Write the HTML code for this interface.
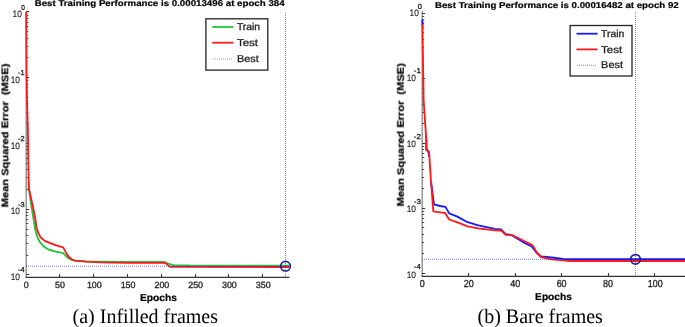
<!DOCTYPE html>
<html><head><meta charset="utf-8"><style>
html,body{margin:0;padding:0;background:#fff;width:685px;height:327px;overflow:hidden}
svg{display:block}
text{will-change:transform;text-rendering:geometricPrecision}
.r{stroke:#222;stroke-width:0.3px}
.r2{stroke:#222;stroke-width:0.12px}
.b{stroke:#000;stroke-width:0.2px}
</style></head><body>
<svg width="685" height="327" viewBox="0 0 685 327" font-family="Liberation Sans, sans-serif">
<rect width="685" height="327" fill="#fff"/>
<text x="34.7" y="6.4" font-size="8.5" font-weight="bold" class="b" textLength="249.9" lengthAdjust="spacingAndGlyphs">Best Training Performance is 0.00013496 at epoch 384</text>
<line x1="26.2" y1="12" x2="26.2" y2="277.3" stroke="#888" stroke-width="1.3"/>
<line x1="25.599999999999998" y1="277.3" x2="289.4" y2="277.3" stroke="#333" stroke-width="1.3"/>
<line x1="26.2" y1="11.5" x2="29.2" y2="11.5" stroke="#333" stroke-width="1"/>
<line x1="26.2" y1="57.5" x2="28.2" y2="57.5" stroke="#333" stroke-width="0.9"/>
<line x1="26.2" y1="46.5" x2="28.2" y2="46.5" stroke="#333" stroke-width="0.9"/>
<line x1="26.2" y1="38.5" x2="28.2" y2="38.5" stroke="#333" stroke-width="0.9"/>
<line x1="26.2" y1="31.5" x2="28.2" y2="31.5" stroke="#333" stroke-width="0.9"/>
<line x1="26.2" y1="26.5" x2="28.2" y2="26.5" stroke="#333" stroke-width="0.9"/>
<line x1="26.2" y1="22.5" x2="28.2" y2="22.5" stroke="#333" stroke-width="0.9"/>
<line x1="26.2" y1="18.5" x2="28.2" y2="18.5" stroke="#333" stroke-width="0.9"/>
<line x1="26.2" y1="15.5" x2="28.2" y2="15.5" stroke="#333" stroke-width="0.9"/>
<text x="12.6" y="17.3" font-size="9.3" class="r2" fill="#222" textLength="9.3" lengthAdjust="spacingAndGlyphs">10</text>
<text x="21.2" y="10.4" font-size="7.2" class="r" fill="#222" textLength="3.6" lengthAdjust="spacingAndGlyphs">0</text>
<line x1="26.2" y1="77.5" x2="29.2" y2="77.5" stroke="#333" stroke-width="1"/>
<line x1="26.2" y1="123.5" x2="28.2" y2="123.5" stroke="#333" stroke-width="0.9"/>
<line x1="26.2" y1="112.5" x2="28.2" y2="112.5" stroke="#333" stroke-width="0.9"/>
<line x1="26.2" y1="103.5" x2="28.2" y2="103.5" stroke="#333" stroke-width="0.9"/>
<line x1="26.2" y1="97.5" x2="28.2" y2="97.5" stroke="#333" stroke-width="0.9"/>
<line x1="26.2" y1="92.5" x2="28.2" y2="92.5" stroke="#333" stroke-width="0.9"/>
<line x1="26.2" y1="87.5" x2="28.2" y2="87.5" stroke="#333" stroke-width="0.9"/>
<line x1="26.2" y1="84.5" x2="28.2" y2="84.5" stroke="#333" stroke-width="0.9"/>
<line x1="26.2" y1="80.5" x2="28.2" y2="80.5" stroke="#333" stroke-width="0.9"/>
<text x="10.7" y="83" font-size="9.3" class="r2" fill="#222" textLength="9.3" lengthAdjust="spacingAndGlyphs">10</text>
<text x="18.1" y="75.2" font-size="7.2" class="r" fill="#222" textLength="6.6" lengthAdjust="spacingAndGlyphs">-1</text>
<line x1="26.2" y1="143.5" x2="29.2" y2="143.5" stroke="#333" stroke-width="1"/>
<line x1="26.2" y1="189.5" x2="28.2" y2="189.5" stroke="#333" stroke-width="0.9"/>
<line x1="26.2" y1="177.5" x2="28.2" y2="177.5" stroke="#333" stroke-width="0.9"/>
<line x1="26.2" y1="169.5" x2="28.2" y2="169.5" stroke="#333" stroke-width="0.9"/>
<line x1="26.2" y1="163.5" x2="28.2" y2="163.5" stroke="#333" stroke-width="0.9"/>
<line x1="26.2" y1="158.5" x2="28.2" y2="158.5" stroke="#333" stroke-width="0.9"/>
<line x1="26.2" y1="153.5" x2="28.2" y2="153.5" stroke="#333" stroke-width="0.9"/>
<line x1="26.2" y1="149.5" x2="28.2" y2="149.5" stroke="#333" stroke-width="0.9"/>
<line x1="26.2" y1="146.5" x2="28.2" y2="146.5" stroke="#333" stroke-width="0.9"/>
<text x="10.7" y="148.7" font-size="9.3" class="r2" fill="#222" textLength="9.3" lengthAdjust="spacingAndGlyphs">10</text>
<text x="18.1" y="140.9" font-size="7.2" class="r" fill="#222" textLength="6.6" lengthAdjust="spacingAndGlyphs">-2</text>
<line x1="26.2" y1="209.5" x2="29.2" y2="209.5" stroke="#333" stroke-width="1"/>
<line x1="26.2" y1="255.5" x2="28.2" y2="255.5" stroke="#333" stroke-width="0.9"/>
<line x1="26.2" y1="243.5" x2="28.2" y2="243.5" stroke="#333" stroke-width="0.9"/>
<line x1="26.2" y1="235.5" x2="28.2" y2="235.5" stroke="#333" stroke-width="0.9"/>
<line x1="26.2" y1="229.5" x2="28.2" y2="229.5" stroke="#333" stroke-width="0.9"/>
<line x1="26.2" y1="223.5" x2="28.2" y2="223.5" stroke="#333" stroke-width="0.9"/>
<line x1="26.2" y1="219.5" x2="28.2" y2="219.5" stroke="#333" stroke-width="0.9"/>
<line x1="26.2" y1="215.5" x2="28.2" y2="215.5" stroke="#333" stroke-width="0.9"/>
<line x1="26.2" y1="212.5" x2="28.2" y2="212.5" stroke="#333" stroke-width="0.9"/>
<text x="10.7" y="214.4" font-size="9.3" class="r2" fill="#222" textLength="9.3" lengthAdjust="spacingAndGlyphs">10</text>
<text x="18.1" y="206.6" font-size="7.2" class="r" fill="#222" textLength="6.6" lengthAdjust="spacingAndGlyphs">-3</text>
<line x1="26.2" y1="274.5" x2="29.2" y2="274.5" stroke="#333" stroke-width="1"/>
<text x="10.7" y="280.1" font-size="9.3" class="r2" fill="#222" textLength="9.3" lengthAdjust="spacingAndGlyphs">10</text>
<text x="18.1" y="272.3" font-size="7.2" class="r" fill="#222" textLength="6.6" lengthAdjust="spacingAndGlyphs">-4</text>
<text x="26.2" y="288" font-size="9.0" class="r" fill="#222" text-anchor="middle" textLength="4.95" lengthAdjust="spacingAndGlyphs">0</text>
<line x1="59.5" y1="277.3" x2="59.5" y2="274.1" stroke="#333" stroke-width="1.1"/>
<text x="59.97" y="288" font-size="9.0" class="r" fill="#222" text-anchor="middle" textLength="9.9" lengthAdjust="spacingAndGlyphs">50</text>
<line x1="93.5" y1="277.3" x2="93.5" y2="274.1" stroke="#333" stroke-width="1.1"/>
<text x="94.34" y="288" font-size="9.0" class="r" fill="#222" text-anchor="middle" textLength="14.850000000000001" lengthAdjust="spacingAndGlyphs">100</text>
<line x1="127.5" y1="277.3" x2="127.5" y2="274.1" stroke="#333" stroke-width="1.1"/>
<text x="128.11" y="288" font-size="9.0" class="r" fill="#222" text-anchor="middle" textLength="14.850000000000001" lengthAdjust="spacingAndGlyphs">150</text>
<line x1="161.5" y1="277.3" x2="161.5" y2="274.1" stroke="#333" stroke-width="1.1"/>
<text x="161.88" y="288" font-size="9.0" class="r" fill="#222" text-anchor="middle" textLength="14.850000000000001" lengthAdjust="spacingAndGlyphs">200</text>
<line x1="195.5" y1="277.3" x2="195.5" y2="274.1" stroke="#333" stroke-width="1.1"/>
<text x="195.65" y="288" font-size="9.0" class="r" fill="#222" text-anchor="middle" textLength="14.850000000000001" lengthAdjust="spacingAndGlyphs">250</text>
<line x1="228.5" y1="277.3" x2="228.5" y2="274.1" stroke="#333" stroke-width="1.1"/>
<text x="229.42" y="288" font-size="9.0" class="r" fill="#222" text-anchor="middle" textLength="14.850000000000001" lengthAdjust="spacingAndGlyphs">300</text>
<line x1="262.5" y1="277.3" x2="262.5" y2="274.1" stroke="#333" stroke-width="1.1"/>
<text x="263.19" y="288" font-size="9.0" class="r" fill="#222" text-anchor="middle" textLength="14.850000000000001" lengthAdjust="spacingAndGlyphs">350</text>
<polyline points="28.65,182 28.8,186 29.8,195 31.1,204.2 33.7,220 35.4,230 37.3,237 39.9,242.1 43.6,246.4 48.5,249.5 54.6,251.3 63.1,253.1 65.6,255.6 68,258 71.7,259.9 75,260.7 85.9,261.3 100,261.6 130,261.8 164,261.9 166,262.6 169,263.8 173.5,265.1 190,265.5 289,265.6" fill="none" stroke="#22c43c" stroke-width="1.85" stroke-linejoin="round"/>
<polyline points="26.2,12 26.5,70 27,100 27.9,130 28.3,160 28.8,188.4 30.3,195 33,207 35.5,220 36.5,228 38.1,232.3 40.5,237.2 44.8,240.9 50.9,243.3 57,245.6 63.1,247.4 65.6,251.9 68.6,256.8 72,259.5 75,260.6 85.9,261.6 100,262.3 130,262.8 165,262.9 166.5,263.8 169.5,266.7 172,266.9 289,267" fill="none" stroke="#ff1a1a" stroke-width="1.85" stroke-linejoin="round"/>
<line x1="26" y1="266.2" x2="289.4" y2="266.2" stroke="#1e1eaa" stroke-opacity="0.56" stroke-width="1" stroke-dasharray="1 1"/>
<line x1="285.5" y1="13" x2="285.5" y2="277.3" stroke="#1e1eaa" stroke-opacity="0.56" stroke-width="1" stroke-dasharray="1 1"/>
<circle cx="285.5" cy="266.2" r="4.8" fill="none" stroke="#1c1ca0" stroke-width="1.7"/>
<text x="139.9" y="300.7" font-size="10" font-weight="bold" class="b" textLength="37.0" lengthAdjust="spacingAndGlyphs">Epochs</text>
<text transform="translate(8.3,207.3) rotate(-90)" font-size="9.7" font-weight="bold" class="b" textLength="143.6" lengthAdjust="spacingAndGlyphs" xml:space="preserve">Mean Squared Error  (MSE)</text>
<rect x="205.9" y="18.8" width="61.9" height="51.3" fill="#fff" stroke="#222" stroke-width="1.3"/>
<line x1="212.3" y1="27" x2="233.4" y2="27" stroke="#22c43c" stroke-width="1.8"/>
<text x="236.9" y="30.3" font-size="10" class="r" fill="#222" textLength="23.2" lengthAdjust="spacingAndGlyphs">Train</text>
<line x1="212.3" y1="42.7" x2="233.4" y2="42.7" stroke="#ff1a1a" stroke-width="1.8"/>
<text x="236.9" y="46" font-size="10" class="r" fill="#222" textLength="21.2" lengthAdjust="spacingAndGlyphs">Test</text>
<line x1="213" y1="58.9" x2="232" y2="58.9" stroke="#1e1eaa" stroke-opacity="0.42" stroke-width="1" stroke-dasharray="1 1"/>
<text x="236.9" y="61.7" font-size="10" class="r" fill="#222" textLength="21.9" lengthAdjust="spacingAndGlyphs">Best</text>
<text x="435.0" y="7.9" font-size="8.5" font-weight="bold" class="b" textLength="243.7" lengthAdjust="spacingAndGlyphs">Best Training Performance is 0.00016482 at epoch 92</text>
<line x1="422.2" y1="11" x2="422.2" y2="276.3" stroke="#888" stroke-width="1.3"/>
<line x1="421.59999999999997" y1="276.3" x2="686" y2="276.3" stroke="#333" stroke-width="1.3"/>
<line x1="422.2" y1="13.5" x2="425.2" y2="13.5" stroke="#333" stroke-width="1"/>
<line x1="422.2" y1="58.5" x2="424.2" y2="58.5" stroke="#333" stroke-width="0.9"/>
<line x1="422.2" y1="47.5" x2="424.2" y2="47.5" stroke="#333" stroke-width="0.9"/>
<line x1="422.2" y1="39.5" x2="424.2" y2="39.5" stroke="#333" stroke-width="0.9"/>
<line x1="422.2" y1="32.5" x2="424.2" y2="32.5" stroke="#333" stroke-width="0.9"/>
<line x1="422.2" y1="27.5" x2="424.2" y2="27.5" stroke="#333" stroke-width="0.9"/>
<line x1="422.2" y1="23.5" x2="424.2" y2="23.5" stroke="#333" stroke-width="0.9"/>
<line x1="422.2" y1="19.5" x2="424.2" y2="19.5" stroke="#333" stroke-width="0.9"/>
<line x1="422.2" y1="16.5" x2="424.2" y2="16.5" stroke="#333" stroke-width="0.9"/>
<text x="409.6" y="15.9" font-size="9.3" class="r2" fill="#222" textLength="9.3" lengthAdjust="spacingAndGlyphs">10</text>
<text x="417.8" y="8.7" font-size="7.2" class="r" fill="#222" textLength="4.2" lengthAdjust="spacingAndGlyphs">0</text>
<line x1="422.2" y1="78.5" x2="425.2" y2="78.5" stroke="#333" stroke-width="1"/>
<line x1="422.2" y1="123.5" x2="424.2" y2="123.5" stroke="#333" stroke-width="0.9"/>
<line x1="422.2" y1="112.5" x2="424.2" y2="112.5" stroke="#333" stroke-width="0.9"/>
<line x1="422.2" y1="104.5" x2="424.2" y2="104.5" stroke="#333" stroke-width="0.9"/>
<line x1="422.2" y1="97.5" x2="424.2" y2="97.5" stroke="#333" stroke-width="0.9"/>
<line x1="422.2" y1="92.5" x2="424.2" y2="92.5" stroke="#333" stroke-width="0.9"/>
<line x1="422.2" y1="88.5" x2="424.2" y2="88.5" stroke="#333" stroke-width="0.9"/>
<line x1="422.2" y1="84.5" x2="424.2" y2="84.5" stroke="#333" stroke-width="0.9"/>
<line x1="422.2" y1="81.5" x2="424.2" y2="81.5" stroke="#333" stroke-width="0.9"/>
<text x="406.7" y="81.3" font-size="9.3" class="r2" fill="#222" textLength="9.3" lengthAdjust="spacingAndGlyphs">10</text>
<text x="413.8" y="73.2" font-size="7.2" class="r" fill="#222" textLength="7.0" lengthAdjust="spacingAndGlyphs">-1</text>
<line x1="422.2" y1="143.5" x2="425.2" y2="143.5" stroke="#333" stroke-width="1"/>
<line x1="422.2" y1="188.5" x2="424.2" y2="188.5" stroke="#333" stroke-width="0.9"/>
<line x1="422.2" y1="177.5" x2="424.2" y2="177.5" stroke="#333" stroke-width="0.9"/>
<line x1="422.2" y1="169.5" x2="424.2" y2="169.5" stroke="#333" stroke-width="0.9"/>
<line x1="422.2" y1="162.5" x2="424.2" y2="162.5" stroke="#333" stroke-width="0.9"/>
<line x1="422.2" y1="157.5" x2="424.2" y2="157.5" stroke="#333" stroke-width="0.9"/>
<line x1="422.2" y1="153.5" x2="424.2" y2="153.5" stroke="#333" stroke-width="0.9"/>
<line x1="422.2" y1="149.5" x2="424.2" y2="149.5" stroke="#333" stroke-width="0.9"/>
<line x1="422.2" y1="146.5" x2="424.2" y2="146.5" stroke="#333" stroke-width="0.9"/>
<text x="406.7" y="146.7" font-size="9.3" class="r2" fill="#222" textLength="9.3" lengthAdjust="spacingAndGlyphs">10</text>
<text x="413.8" y="138.6" font-size="7.2" class="r" fill="#222" textLength="7.0" lengthAdjust="spacingAndGlyphs">-2</text>
<line x1="422.2" y1="208.5" x2="425.2" y2="208.5" stroke="#333" stroke-width="1"/>
<line x1="422.2" y1="253.5" x2="424.2" y2="253.5" stroke="#333" stroke-width="0.9"/>
<line x1="422.2" y1="242.5" x2="424.2" y2="242.5" stroke="#333" stroke-width="0.9"/>
<line x1="422.2" y1="234.5" x2="424.2" y2="234.5" stroke="#333" stroke-width="0.9"/>
<line x1="422.2" y1="227.5" x2="424.2" y2="227.5" stroke="#333" stroke-width="0.9"/>
<line x1="422.2" y1="222.5" x2="424.2" y2="222.5" stroke="#333" stroke-width="0.9"/>
<line x1="422.2" y1="218.5" x2="424.2" y2="218.5" stroke="#333" stroke-width="0.9"/>
<line x1="422.2" y1="214.5" x2="424.2" y2="214.5" stroke="#333" stroke-width="0.9"/>
<line x1="422.2" y1="211.5" x2="424.2" y2="211.5" stroke="#333" stroke-width="0.9"/>
<text x="406.7" y="212.1" font-size="9.3" class="r2" fill="#222" textLength="9.3" lengthAdjust="spacingAndGlyphs">10</text>
<text x="413.8" y="204" font-size="7.2" class="r" fill="#222" textLength="7.0" lengthAdjust="spacingAndGlyphs">-3</text>
<line x1="422.2" y1="273.5" x2="425.2" y2="273.5" stroke="#333" stroke-width="1"/>
<text x="406.7" y="277.5" font-size="9.3" class="r2" fill="#222" textLength="9.3" lengthAdjust="spacingAndGlyphs">10</text>
<text x="413.8" y="269.4" font-size="7.2" class="r" fill="#222" textLength="7.0" lengthAdjust="spacingAndGlyphs">-4</text>
<text x="422.2" y="286.9" font-size="10.1" class="r" fill="#222" text-anchor="middle" textLength="5.0" lengthAdjust="spacingAndGlyphs">0</text>
<line x1="468.5" y1="276.3" x2="468.5" y2="273.1" stroke="#333" stroke-width="1.1"/>
<text x="468.68" y="286.9" font-size="10.1" class="r" fill="#222" text-anchor="middle" textLength="10.0" lengthAdjust="spacingAndGlyphs">20</text>
<line x1="515.5" y1="276.3" x2="515.5" y2="273.1" stroke="#333" stroke-width="1.1"/>
<text x="515.16" y="286.9" font-size="10.1" class="r" fill="#222" text-anchor="middle" textLength="10.0" lengthAdjust="spacingAndGlyphs">40</text>
<line x1="561.5" y1="276.3" x2="561.5" y2="273.1" stroke="#333" stroke-width="1.1"/>
<text x="561.64" y="286.9" font-size="10.1" class="r" fill="#222" text-anchor="middle" textLength="10.0" lengthAdjust="spacingAndGlyphs">60</text>
<line x1="608.5" y1="276.3" x2="608.5" y2="273.1" stroke="#333" stroke-width="1.1"/>
<text x="608.12" y="286.9" font-size="10.1" class="r" fill="#222" text-anchor="middle" textLength="10.0" lengthAdjust="spacingAndGlyphs">80</text>
<line x1="654.5" y1="276.3" x2="654.5" y2="273.1" stroke="#333" stroke-width="1.1"/>
<text x="655.2" y="286.9" font-size="10.1" class="r" fill="#222" text-anchor="middle" textLength="15.0" lengthAdjust="spacingAndGlyphs">100</text>
<polyline points="422.4,19.6 422.5,26" fill="none" stroke="#1a1aff" stroke-width="1.85" stroke-linejoin="round"/>
<polyline points="426,135 426.3,140 426.2,149.5 428.5,152 429.3,157" fill="none" stroke="#1a1aff" stroke-width="1.85" stroke-linejoin="round"/>
<polyline points="431.1,182 434,204.4 440,206 445.4,206.9 449.2,213.4 456.8,216.4 467.6,222.2 478.3,225.3 495,228.8 501.1,229.5 505.7,234.1 511.8,234.9 514.9,237.2 522.6,241.8 531.7,246.4 536.3,252.5 540.9,256.3 551.7,257.5 563.4,259 686,259.1" fill="none" stroke="#1a1aff" stroke-width="1.85" stroke-linejoin="round"/>
<polyline points="422.4,24 423,60 423.6,100 426.3,140 426.6,149.2 429.1,152.2 430.9,180 433.3,211.1 434.6,211.7 440,212.3 444.4,212.9 445.4,213.4 449.2,219.5 456.8,222.2 467.6,226.4 478.3,228.4 495,230.3 501.1,230.5 505.7,234.9 512.6,235.2 522.6,240.3 531.7,244.8 533.3,246.4 536.3,251.7 540.9,257.1 551.7,259.3 563.4,260.4 570,261 686,261" fill="none" stroke="#ff1a1a" stroke-width="1.85" stroke-linejoin="round"/>
<line x1="422" y1="259.35" x2="686" y2="259.35" stroke="#1e1eaa" stroke-opacity="0.56" stroke-width="1" stroke-dasharray="1 1"/>
<line x1="635.5" y1="12" x2="635.5" y2="276.3" stroke="#1e1eaa" stroke-opacity="0.56" stroke-width="1" stroke-dasharray="1 1"/>
<circle cx="635.5" cy="259.35" r="4.8" fill="none" stroke="#1c1ca0" stroke-width="1.7"/>
<text x="535.1" y="299.8" font-size="10" font-weight="bold" class="b" textLength="36.8" lengthAdjust="spacingAndGlyphs">Epochs</text>
<text transform="translate(403.8,206.4) rotate(-90)" font-size="9.7" font-weight="bold" class="b" textLength="143.2" lengthAdjust="spacingAndGlyphs" xml:space="preserve">Mean Squared Error  (MSE)</text>
<rect x="570.1" y="25.5" width="61.9" height="50.5" fill="#fff" stroke="#222" stroke-width="1.3"/>
<line x1="576.5" y1="33.7" x2="597.6" y2="33.7" stroke="#1a1aff" stroke-width="1.8"/>
<text x="601.1" y="37" font-size="10" class="r" fill="#222" textLength="23.2" lengthAdjust="spacingAndGlyphs">Train</text>
<line x1="576.5" y1="49.4" x2="597.6" y2="49.4" stroke="#ff1a1a" stroke-width="1.8"/>
<text x="601.1" y="52.7" font-size="10" class="r" fill="#222" textLength="21.2" lengthAdjust="spacingAndGlyphs">Test</text>
<line x1="577" y1="65.3" x2="596" y2="65.3" stroke="#1e1eaa" stroke-opacity="0.58" stroke-width="1" stroke-dasharray="1 1"/>
<text x="601.1" y="68.4" font-size="10" class="r" fill="#222" textLength="21.9" lengthAdjust="spacingAndGlyphs">Best</text>
<text x="72.6" y="323.4" font-family="Liberation Serif, serif" font-size="20.5" fill="#000" textLength="145.4" lengthAdjust="spacingAndGlyphs">(a) Infilled frames</text>
<text x="477.6" y="323.4" font-family="Liberation Serif, serif" font-size="20.5" fill="#000" textLength="125.3" lengthAdjust="spacingAndGlyphs">(b) Bare frames</text>
</svg>
</body></html>
